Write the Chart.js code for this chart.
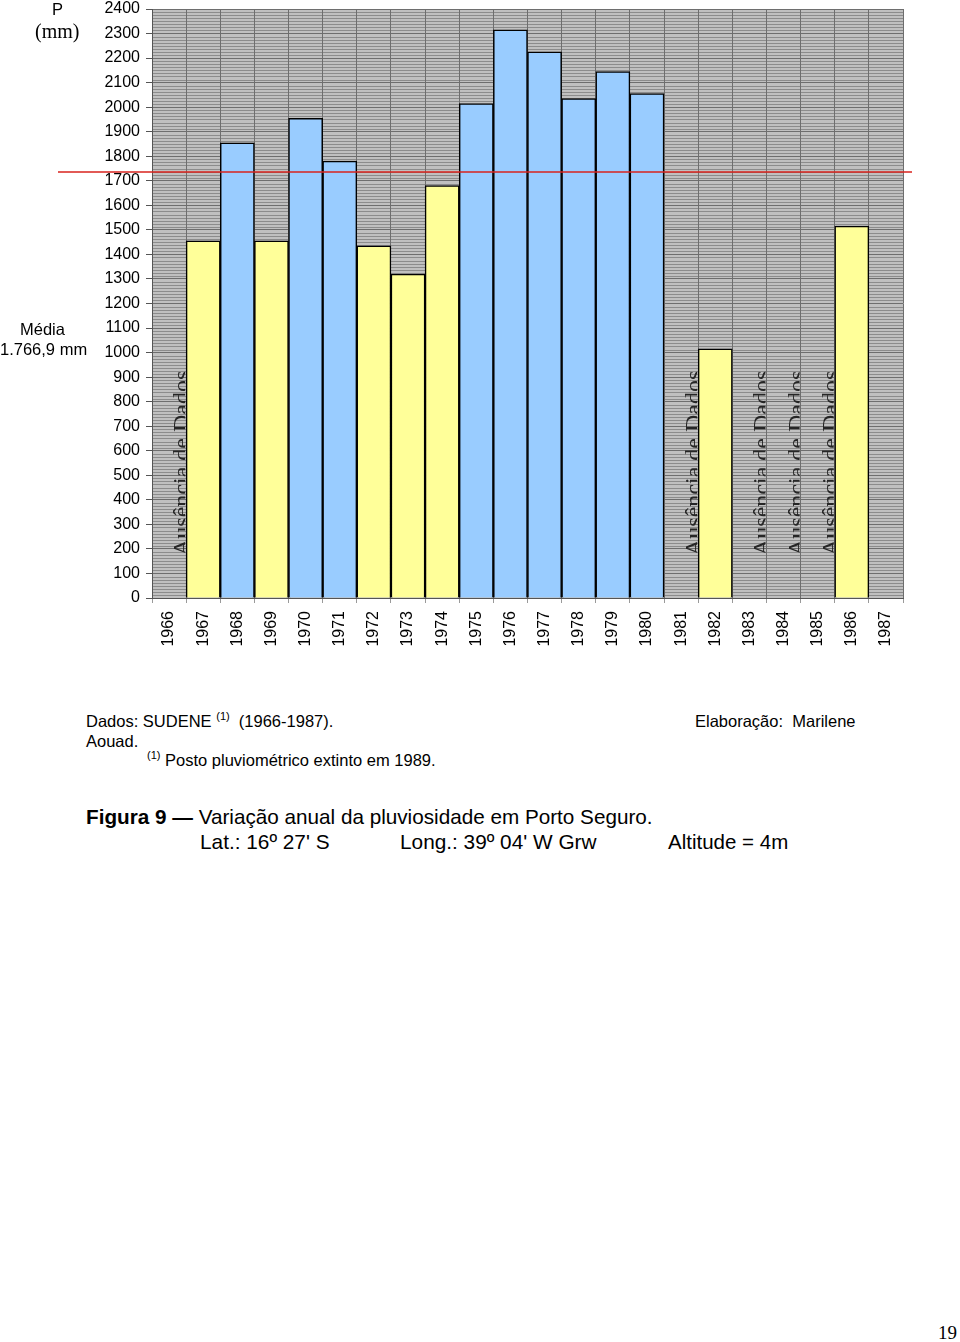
<!DOCTYPE html>
<html>
<head>
<meta charset="utf-8">
<script src="https://cdn.jsdelivr.net/npm/chart.js@4.4.1/dist/chart.umd.min.js"></script>
<style>
  body { margin: 0; background: #fff; width: 960px; height: 1342px; position: relative; overflow: hidden; font-family: "Liberation Sans", Arial, sans-serif; color: #000; }
  #rainChart { position: absolute; left: 0; top: 0; }
  .t { position: absolute; white-space: pre; line-height: 18px; }
  .serif { font-family: "Liberation Serif", "Times New Roman", serif; }
  sup { font-size: 11px; vertical-align: 7px; line-height: 0; }
</style>
</head>
<body>
<canvas id="rainChart" width="960" height="660"></canvas>

<div class="t" style="left:52px; top:0px; font-size:16.5px;">P</div>
<div class="t serif" style="left:35px; top:22px; font-size:20px;">(mm)</div>
<div class="t" style="left:20px; top:320px; font-size:16.5px;">Média</div>
<div class="t" style="left:0px; top:340px; font-size:16.5px;">1.766,9 mm</div>

<div class="t" style="left:86px; top:712px; font-size:16.5px;">Dados: SUDENE <sup>(1)</sup>  (1966-1987).</div>
<div class="t" style="left:695px; top:712px; font-size:16.5px;">Elaboração:  Marilene</div>
<div class="t" style="left:86px; top:732px; font-size:16.5px;">Aouad.</div>
<div class="t" style="left:147px; top:751px; font-size:16.5px;"><sup>(1)</sup> Posto pluviométrico extinto em 1989.</div>

<div class="t" style="left:86px; top:806px; font-size:20.7px; line-height:22px;"><b>Figura 9 —</b> Variação anual da pluviosidade em Porto Seguro.</div>
<div class="t" style="left:200px; top:831px; font-size:20.8px; line-height:22px;">Lat.: 16º 27' S</div>
<div class="t" style="left:400px; top:831px; font-size:20.8px; line-height:22px;">Long.: 39º 04' W Grw</div>
<div class="t" style="left:668px; top:831px; font-size:20.5px; line-height:22px;">Altitude = 4m</div>

<div class="t serif" style="left:938px; top:1322px; font-size:19px; line-height:22px;">19</div>

<script>
const years = ['1966', '1967', '1968', '1969', '1970', '1971', '1972', '1973', '1974', '1975', '1976',
               '1977', '1978', '1979', '1980', '1981', '1982', '1983', '1984', '1985', '1986', '1987'];
// annual rainfall (mm), null = no data
const rainfall = [null, 1455, 1855, 1455, 1955, 1780, 1435, 1320, 1680, 2015, 2315,
                  2225, 2035, 2145, 2055, null, 1015, null, null, null, 1515, null];
const noDataYears = ['1966', '1981', '1983', '1984', '1985'];
const noDataText = 'Ausência de Dados';
const meanValue = 1766.9;   // stated mean
const meanLineAt = 1736;    // where the red line sits in the figure
const yMin = 0, yMax = 2400, yStep = 100, yMinorStep = 12.5;

const colAbove = '#99CCFF';
const colBelow = '#FFFF99';

const plotBg = {
  id: 'plotBg',
  beforeDraw(chart) {
    const { ctx, chartArea: a, scales: { y } } = chart;
    ctx.save();
    ctx.fillStyle = '#C0C0C0';
    ctx.fillRect(a.left, a.top, a.right - a.left, a.bottom - a.top);
    // minor horizontal lines
    ctx.strokeStyle = '#8c8c8c';
    ctx.lineWidth = 1;
    for (let v = yMin; v <= yMax; v += yMinorStep) {
      if (v % yStep === 0) continue;
      const py = Math.round(y.getPixelForValue(v)) + 0.5;
      ctx.beginPath();
      ctx.moveTo(a.left, py);
      ctx.lineTo(a.right, py);
      ctx.stroke();
    }
    ctx.restore();
  }
};

const overlay = {
  id: 'overlay',
  afterDatasetsDraw(chart) {
    const { ctx, chartArea: a, scales: { x, y } } = chart;
    ctx.save();
    // "Ausência de Dados" labels
    const half = (x.getPixelForValue(1) - x.getPixelForValue(0)) / 2;
    ctx.font = '24px "Liberation Serif", "Times New Roman", serif';
    ctx.fillStyle = '#262626';
    noDataYears.forEach(yr => {
      const cx = x.getPixelForValue(years.indexOf(yr));
      const right = cx + half;
      ctx.save();
      ctx.beginPath();
      ctx.rect(cx - half, a.top, 2 * half - 1, a.bottom - a.top);
      ctx.clip();
      ctx.translate(right + 3, a.bottom - 42);
      ctx.rotate(-Math.PI / 2);
      ctx.textAlign = 'left';
      ctx.textBaseline = 'alphabetic';
      ctx.fillText(noDataText, 0, 0);
      ctx.restore();
    });
    // mean line
    const my = y.getPixelForValue(meanLineAt);
    ctx.strokeStyle = '#D9231E';
    ctx.lineWidth = 1.5;
    ctx.beginPath();
    ctx.moveTo(58, my);
    ctx.lineTo(912, my);
    ctx.stroke();
    ctx.restore();
  }
};

new Chart(document.getElementById('rainChart'), {
  type: 'bar',
  data: {
    labels: years,
    datasets: [{
      data: rainfall,
      backgroundColor: rainfall.map(v => (v !== null && v > meanValue) ? colAbove : colBelow),
      borderColor: '#000',
      borderWidth: 1.5,
      barPercentage: 1,
      categoryPercentage: 1
    }]
  },
  options: {
    responsive: false,
    devicePixelRatio: 1,
    animation: false,
    layout: { padding: { top: 9, right: 57, bottom: 0, left: 0 } },
    plugins: { legend: { display: false }, tooltip: { enabled: false } },
    scales: {
      x: {
        offset: true,
        grid: { offset: true, color: '#6e6e6e', lineWidth: 1, tickLength: 5, tickColor: '#9a9a9a' },
        border: { color: '#555', width: 1 },
        ticks: {
          color: '#000', minRotation: 90, maxRotation: 90, padding: 8,
          font: { family: '"Liberation Sans", Arial, sans-serif', size: 16 }
        },
        afterFit(scale) { scale.height = 62; scale.paddingLeft = 0; scale.paddingRight = 0; }
      },
      y: {
        min: yMin, max: yMax,
        grid: { color: '#6e6e6e', lineWidth: 1, tickLength: 6, tickColor: '#555' },
        border: { color: '#555', width: 1 },
        ticks: {
          stepSize: yStep, color: '#000', padding: 6, autoSkip: false,
          font: { family: '"Liberation Sans", Arial, sans-serif', size: 16 },
          callback: v => String(v)
        },
        afterFit(scale) { scale.width = 152; scale.paddingTop = 0; scale.paddingBottom = 0; }
      }
    }
  },
  plugins: [plotBg, overlay]
});
</script>
</body>
</html>
